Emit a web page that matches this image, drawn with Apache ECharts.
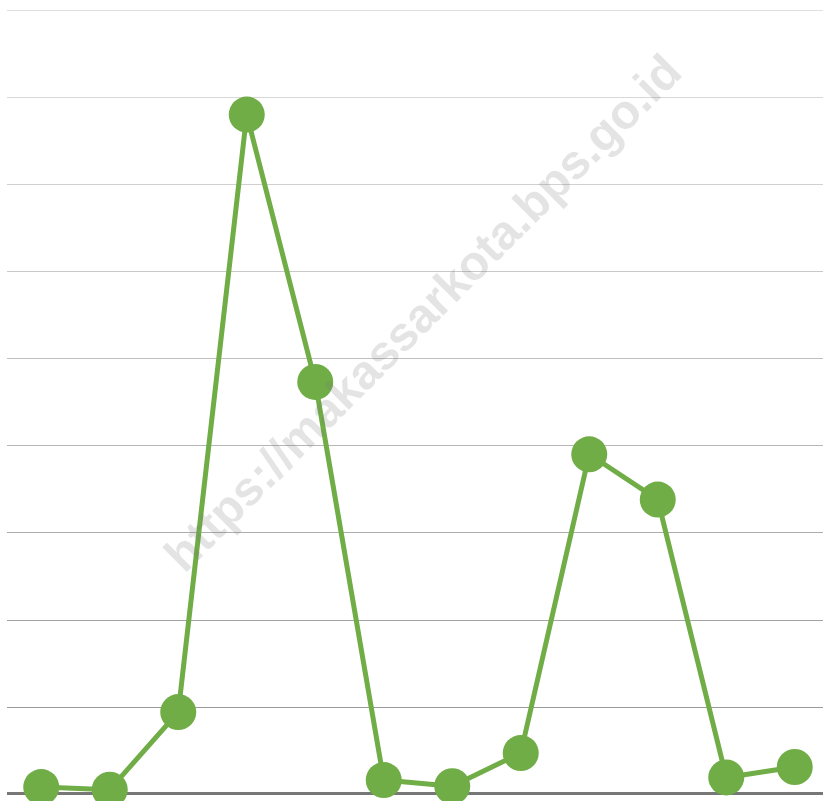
<!DOCTYPE html>
<html>
<head>
<meta charset="utf-8">
<script src="https://cdn.jsdelivr.net/npm/echarts@6/dist/echarts.min.js"></script>
<style>
  html, body { margin: 0; padding: 0; background: #fff; overflow: hidden; }
  #chart { width: 829px; height: 801px; }
</style>
</head>
<body>
<div id="chart"></div>
<script>
const months = ['Jan', 'Feb', 'Mar', 'Apr', 'Mei', 'Jun', 'Jul', 'Agu', 'Sep', 'Okt', 'Nov', 'Des']
const values = [0.8, 0.5, 9.4, 78, 47.3, 1.6, 0.9, 4.7, 39, 33.8, 1.9, 3.1]
const yMax = 90
const yStep = 10
const gridColors = ['#777', '#9a9a9a', '#a3a3a3', '#adadad', '#b6b6b6', '#bfbfbf', '#c8c8c8', '#d0d0d0', '#d8d8d8', '#e0e0e0']
const watermark = 'https://makassarkota.bps.go.id'

const chart = echarts.init(document.getElementById('chart'))
chart.setOption({
  animation: false,
  grid: { left: 7, right: 0, top: 10, bottom: 7, containLabel: false },
  xAxis: {
    type: 'category',
    data: months,
    boundaryGap: true,
    axisLine: { show: false },
    axisTick: { show: false },
    axisLabel: { show: false }
  },
  yAxis: {
    type: 'value',
    min: 0,
    max: yMax,
    interval: yStep,
    axisLine: { show: false },
    axisTick: { show: false },
    axisLabel: { show: false },
    splitLine: { lineStyle: { color: gridColors, width: 1 } }
  },
  series: [{
    type: 'line',
    data: values,
    clip: false,
    symbol: 'circle',
    symbolSize: 36,
    lineStyle: { color: '#70AD47', width: 5 },
    itemStyle: { color: '#70AD47' }
  }],
  graphic: [
    {
      type: 'rect',
      left: 7, top: 792,
      shape: { width: 823, height: 3 },
      style: { fill: '#777' },
      z: 1
    },
    {
      type: 'text',
      x: 425, y: 315,
      rotation: Math.PI / 4,
      z: 100,
      style: {
        text: watermark,
        font: 'bold 48px "Liberation Sans", Arial, sans-serif',
        fill: 'rgba(120,120,120,0.2)',
        align: 'center',
        verticalAlign: 'middle'
      }
    }
  ]
})
</script>
</body>
</html>
